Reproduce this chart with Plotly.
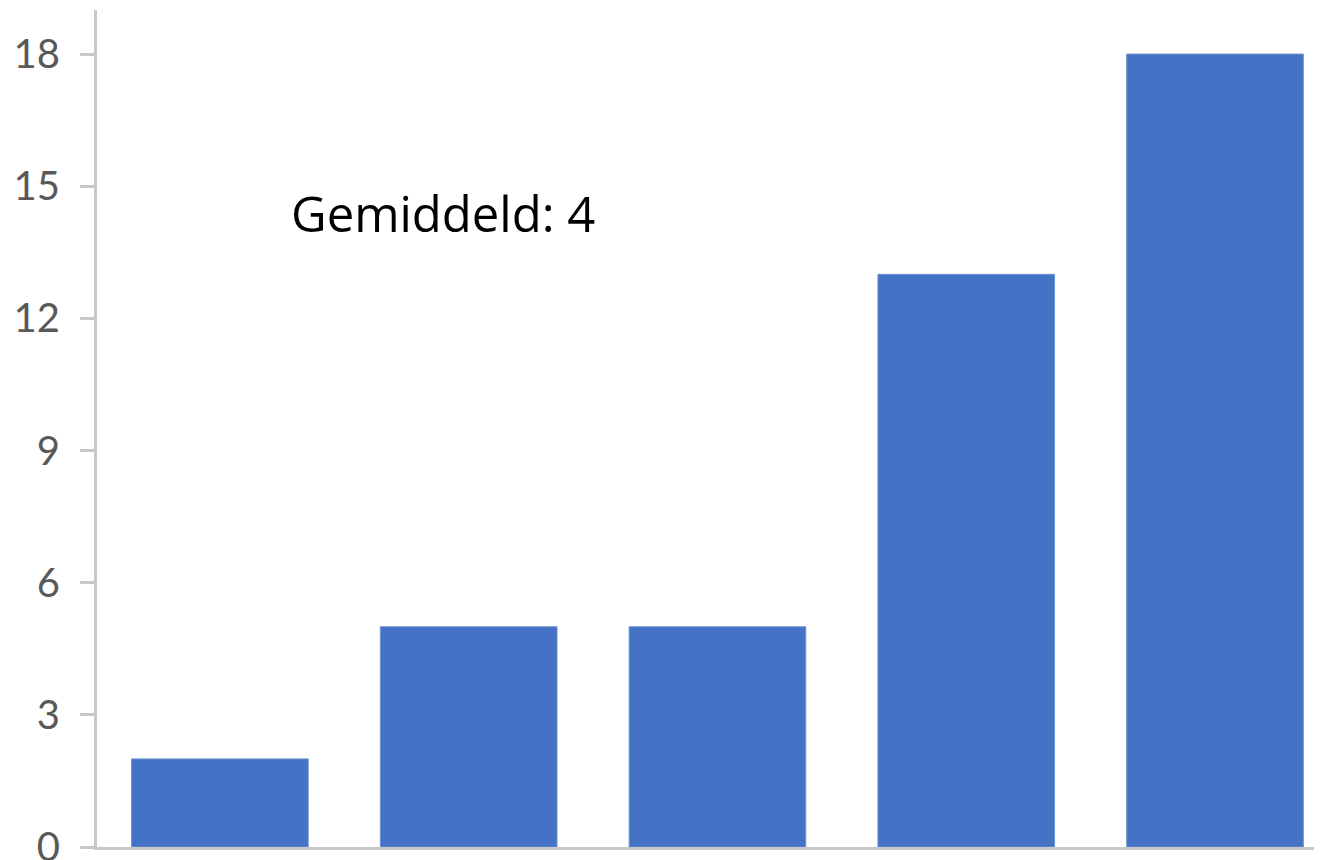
import plotly.graph_objects as go

categories = ["A", "B", "C", "D", "E"]
values = [2, 5, 5, 13, 18]
y_ticks = [0, 3, 6, 9, 12, 15, 18]
annotation_text = "Gemiddeld: 4"

fig = go.Figure(
    go.Bar(
        x=categories,
        y=values,
        marker=dict(color="#4472C4", line=dict(color="#6f93d3", width=1)),
        width=0.71,
    )
)

fig.add_annotation(
    x=0.896, y=14.4, xref="x", yref="y",
    text=annotation_text, showarrow=False,
    font=dict(family="Open Sans, Lato, sans-serif", size=49, color="#000000"),
)

# page body has an 8px default margin, so margins are compensated
fig.update_layout(
    width=1322, height=860,
    margin=dict(l=89, r=8, t=2, b=21, pad=0, autoexpand=False),
    paper_bgcolor="white", plot_bgcolor="white",
    showlegend=False,
    bargap=0.29,
)
fig.update_xaxes(
    range=[-0.494, 4.43],
    showticklabels=False, ticks="",
    showline=True, linecolor="#c8c8c8", linewidth=3,
    showgrid=False, zeroline=False,
    automargin=False,
)
fig.update_yaxes(
    range=[0, 19],
    tickvals=y_ticks,
    ticks="outside", ticklen=14, tickwidth=3, tickcolor="#c8c8c8",
    showline=True, linecolor="#c8c8c8", linewidth=3,
    showgrid=False, zeroline=False,
    tickfont=dict(family="Lato, Open Sans, sans-serif", size=40, color="#595959"),
    ticklabelstandoff=12,
    ticklabeloverflow="allow",
    automargin=False,
)

fig.write_html("out.html")
